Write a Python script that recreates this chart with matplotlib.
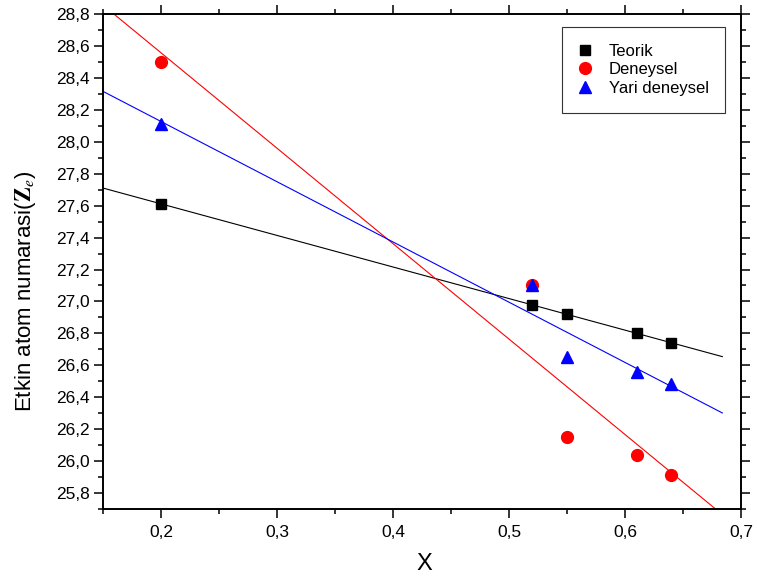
import numpy as np
import matplotlib
matplotlib.use('Agg')
import matplotlib.pyplot as plt
from matplotlib.ticker import MultipleLocator, FuncFormatter

plt.rcParams['font.family'] = ['Liberation Sans', 'DejaVu Sans']
plt.rcParams['mathtext.fontset'] = 'stix'

# veriler
x = [0.20, 0.52, 0.55, 0.61, 0.64]
teorik = [27.61, 26.98, 26.92, 26.80, 26.74]
deneysel = [28.50, 27.10, 26.15, 26.04, 25.91]
yari_deneysel = [28.11, 27.10, 26.65, 26.56, 26.48]

series = [
    ('Teorik', teorik, 'black', 's', 7.5),
    ('Deneysel', deneysel, 'red', 'o', 8.5),
    ('Yari deneysel', yari_deneysel, 'blue', '^', 9),
]

fig = plt.figure(figsize=(7.57, 5.83), dpi=100)
ax = fig.add_axes([0.1367, 0.1269, 0.842, 0.849])

# lineer fit cizgileri
xf = np.linspace(0.15, 0.684, 100)
for name, y, c, m, ms in series:
    a, b = np.polyfit(x, y, 1)
    ax.plot(xf, a * xf + b, color=c, lw=0.8, zorder=1)

for name, y, c, m, ms in series:
    ax.plot(x, y, ls='none', marker=m, color=c, markersize=ms, label=name, zorder=3)

ax.set_xlim(0.15, 0.7)
ax.set_ylim(25.7, 28.8)

comma = FuncFormatter(lambda v, p: f'{v:.1f}'.replace('.', ','))
ax.xaxis.set_major_locator(MultipleLocator(0.1))
ax.xaxis.set_minor_locator(MultipleLocator(0.05))
ax.yaxis.set_major_locator(MultipleLocator(0.2))
ax.yaxis.set_minor_locator(MultipleLocator(0.1))
ax.xaxis.set_major_formatter(comma)
ax.yaxis.set_major_formatter(comma)

ax.tick_params(which='both', direction='out', top=True, right=True, width=1.1)
ax.tick_params(which='major', length=6.5, labelsize=12.5, pad=3.5)
ax.tick_params(axis='x', which='major', pad=5)
ax.tick_params(which='minor', length=3.5)
for s in ax.spines.values():
    s.set_linewidth(1.4)

ax.set_xlabel('X', fontsize=17)
ax.xaxis.set_label_coords(0.503, -0.088)
ax.set_ylabel(r'Etkin atom numarasi($\mathbf{Z}_e$)', fontsize=16)
ax.yaxis.set_label_coords(-0.103, 0.44)

leg = ax.legend(loc='upper left', bbox_to_anchor=(562 / 757, 1 - 27 / 583),
                bbox_transform=fig.transFigure, borderaxespad=0,
                fontsize=12, fancybox=False, edgecolor='#333333', framealpha=1,
                handlelength=0.7, handletextpad=1.1, borderpad=1.0,
                labelspacing=0.22)
leg.get_frame().set_linewidth(0.8)

fig.savefig('out.png', dpi=100)
plt.close()
